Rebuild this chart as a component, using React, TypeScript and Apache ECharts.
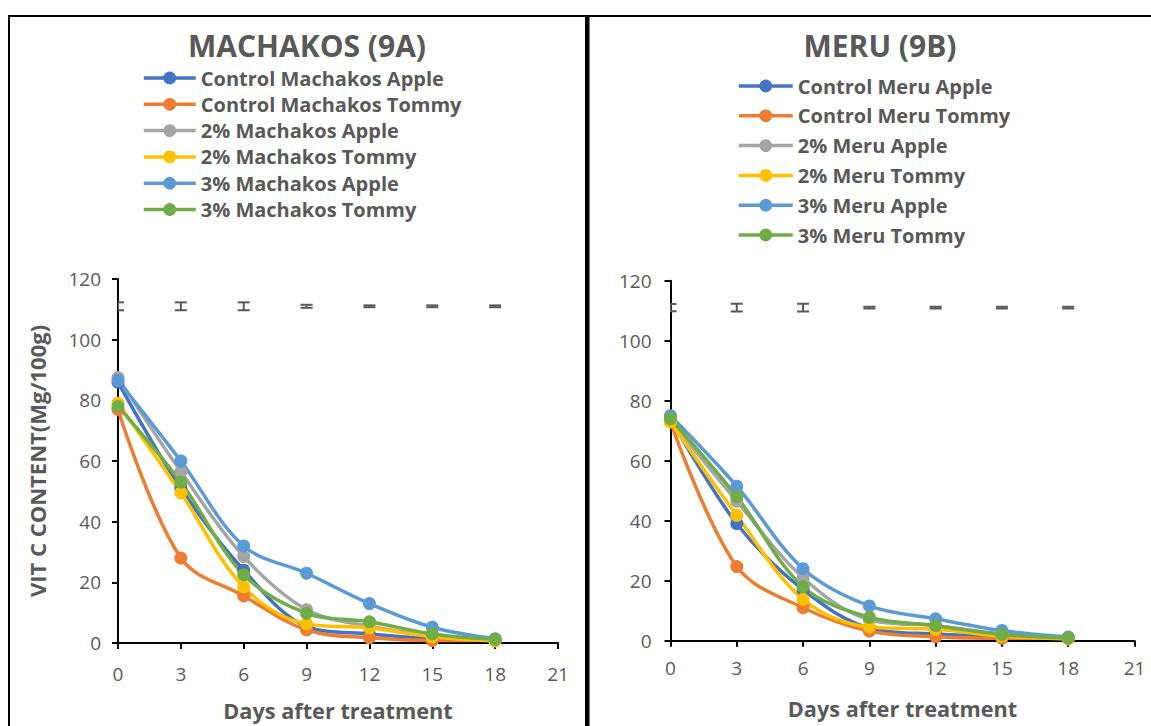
import React, { useEffect, useRef } from 'react';
import * as echarts from 'echarts';

const days = [0, 3, 6, 9, 12, 15, 18];

const machakosNames = [
  'Control Machakos Apple',
  'Control Machakos Tommy',
  '2% Machakos Apple',
  '2% Machakos Tommy',
  '3% Machakos Apple',
  '3% Machakos Tommy',
];
const mControlApple = [86, 51, 24, 5.5, 3, 1.5, 1];
const mControlTommy = [77, 28, 15.5, 4.3, 1.7, 0.8, 1];
const m2Apple = [87.5, 56.5, 28.5, 11, 5.5, 2.5, 1];
const m2Tommy = [79, 49.5, 18.5, 6.3, 5, 2, 0.7];
const m3Apple = [86.5, 60, 32, 23, 13, 5.2, 1.4];
const m3Tommy = [78, 53, 22.5, 9.8, 7, 3, 1.2];

const meruNames = [
  'Control Meru Apple',
  'Control Meru Tommy',
  '2% Meru Apple',
  '2% Meru Tommy',
  '3% Meru Apple',
  '3% Meru Tommy',
];
const rControlApple = [74, 39, 17, 4.2, 2.2, 1.5, 1];
const rControlTommy = [73, 24.7, 11, 3.2, 1.3, 0.8, 1];
const r2Apple = [73.5, 46.5, 21, 7, 5, 2.2, 1];
const r2Tommy = [73, 41.8, 13.8, 4.6, 3.8, 1.5, 0.6];
const r3Apple = [75, 51.5, 24, 11.6, 7.3, 3.4, 1.2];
const r3Tommy = [74, 48, 18, 7.8, 5, 2.1, 0.9];

// small error bars drawn near the top of each panel
const errCenter = [111, 111, 111, 111, 111, 111, 111];
const mErrHalf = [1.3, 1.3, 1.3, 0.5, 0.3, 0.3, 0.3];
const rErrHalf = [1.2, 1.3, 1.3, 0.3, 0.3, 0.3, 0.3];

const yTicks = [0, 20, 40, 60, 80, 100, 120];
const xTicks = [0, 3, 6, 9, 12, 15, 18, 21];

const colors = ['#4472C4', '#ED7D31', '#A5A5A5', '#FFC000', '#5B9BD5', '#70AD47'];
const GRAY = '#595959';
const FONT = 'Open Sans';

function lineSeries(name: string, vals: number[], color: string, idx: number) {
  return {
    type: 'line',
    name,
    xAxisIndex: idx,
    yAxisIndex: idx,
    data: days.map((d, i) => [d, vals[i]]),
    smooth: 0.35,
    symbol: 'circle',
    symbolSize: 13,
    showSymbol: true,
    lineStyle: { width: 3.5, color },
    itemStyle: { color },
    emphasis: { disabled: true },
  };
}

function errSeries(halves: number[], idx: number) {
  return {
    type: 'custom',
    name: 'err' + idx,
    xAxisIndex: idx,
    yAxisIndex: idx,
    clip: true,
    data: days.map((d, i) => [d, errCenter[i], halves[i]]),
    renderItem: (params: any, api: any) => {
      const x = api.value(0);
      const c = api.value(1);
      const h = api.value(2);
      const top = api.coord([x, c + h]);
      const bot = api.coord([x, c - h]);
      const w = 6;
      const st = { stroke: GRAY, lineWidth: 2 };
      return {
        type: 'group',
        children: [
          { type: 'line', shape: { x1: top[0], y1: top[1], x2: bot[0], y2: bot[1] }, style: st },
          { type: 'line', shape: { x1: top[0] - w, y1: top[1], x2: top[0] + w, y2: top[1] }, style: st },
          { type: 'line', shape: { x1: bot[0] - w, y1: bot[1], x2: bot[0] + w, y2: bot[1] }, style: st },
        ],
      };
    },
  };
}

function xAxis(idx: number, labelMargin: number, nameGap: number) {
  return {
    gridIndex: idx,
    type: 'value',
    min: xTicks[0],
    max: xTicks[xTicks.length - 1],
    interval: 3,
    axisLine: { show: true, lineStyle: { color: '#000', width: 2 } },
    axisTick: { show: true, length: 6, lineStyle: { color: '#000', width: 2 } },
    splitLine: { show: false },
    axisLabel: { color: GRAY, fontSize: 19, fontFamily: FONT, margin: labelMargin },
    name: 'Days after treatment',
    nameLocation: 'middle',
    nameGap,
    nameTextStyle: { color: GRAY, fontSize: 21.7, fontWeight: 'bold', fontFamily: FONT },
  };
}

function yAxis(idx: number, labelMargin: number, name?: string) {
  return {
    gridIndex: idx,
    type: 'value',
    min: yTicks[0],
    max: yTicks[yTicks.length - 1],
    interval: 20,
    axisLine: { show: true, lineStyle: { color: '#000', width: 2 } },
    axisTick: { show: true, length: 6, lineStyle: { color: '#000', width: 2 } },
    splitLine: { show: false },
    axisLabel: { color: GRAY, fontSize: 19, fontFamily: FONT, margin: labelMargin },
    name: name || '',
    nameLocation: 'middle',
    nameGap: 70,
    nameTextStyle: { color: GRAY, fontSize: 22, fontWeight: 'bold', fontFamily: FONT },
  };
}

export default function App() {
  const ref = useRef<HTMLDivElement>(null);
  useEffect(() => {
    const chart = echarts.init(ref.current!, null, { renderer: 'svg' });
    const mVals = [mControlApple, mControlTommy, m2Apple, m2Tommy, m3Apple, m3Tommy];
    const rVals = [rControlApple, rControlTommy, r2Apple, r2Tommy, r3Apple, r3Tommy];
    const option: any = {
      animation: false,
      backgroundColor: '#fff',
      grid: [
        { left: 118, top: 279, width: 440, height: 366 },
        { left: 670.5, top: 280.7, width: 464, height: 360 },
      ],
      xAxis: [xAxis(0, 21, 56), xAxis(1, 18, 57)],
      yAxis: [yAxis(0, 17, 'VIT C CONTENT(Mg/100g)'), yAxis(1, 19)],
      legend: [
        {
          data: machakosNames,
          orient: 'vertical',
          left: 142,
          top: 68,
          padding: 0,
          itemWidth: 52,
          itemHeight: 16,
          itemGap: 6.3,
          selectedMode: false,
          lineStyle: { width: 3.5 },
          textStyle: { color: GRAY, fontSize: 20, fontWeight: 'bold', fontFamily: FONT, lineHeight: 20 },
        },
        {
          data: meruNames,
          orient: 'vertical',
          left: 737,
          top: 75,
          padding: 0,
          itemWidth: 54,
          itemHeight: 16,
          itemGap: 7.8,
          selectedMode: false,
          lineStyle: { width: 3.5 },
          textStyle: { color: GRAY, fontSize: 20, fontWeight: 'bold', fontFamily: FONT, lineHeight: 22 },
        },
      ],
      graphic: [
        { type: 'line', shape: { x1: 9, y1: 16, x2: 587, y2: 16 }, style: { stroke: '#000', lineWidth: 2 } },
        { type: 'line', shape: { x1: 9, y1: 15, x2: 9, y2: 726 }, style: { stroke: '#000', lineWidth: 2 } },
        { type: 'rect', shape: { x: 585, y: 15, width: 4.5, height: 711 }, style: { fill: '#000' } },
        { type: 'line', shape: { x1: 587, y1: 16, x2: 1151, y2: 16 }, style: { stroke: '#000', lineWidth: 2 } },
        {
          type: 'text',
          x: 307,
          y: 45,
          style: { text: 'MACHAKOS (9A)', fill: GRAY, fontSize: 30, lineHeight: 30, fontWeight: 'bold', fontFamily: FONT, align: 'center', verticalAlign: 'middle' },
        },
        {
          type: 'text',
          x: 880,
          y: 45,
          style: { text: 'MERU (9B)', fill: GRAY, fontSize: 30, lineHeight: 30, fontWeight: 'bold', fontFamily: FONT, align: 'center', verticalAlign: 'middle' },
        },
      ],
      series: [
        ...machakosNames.map((n, i) => lineSeries(n, mVals[i], colors[i], 0)),
        ...meruNames.map((n, i) => lineSeries(n, rVals[i], colors[i], 1)),
        errSeries(mErrHalf, 0),
        errSeries(rErrHalf, 1),
      ],
    };
    chart.setOption(option);
    return () => chart.dispose();
  }, []);
  return (
    <div
      ref={ref}
      style={{ position: 'absolute', left: 0, top: 0, width: 1151, height: 726, background: '#fff' }}
    />
  );
}
